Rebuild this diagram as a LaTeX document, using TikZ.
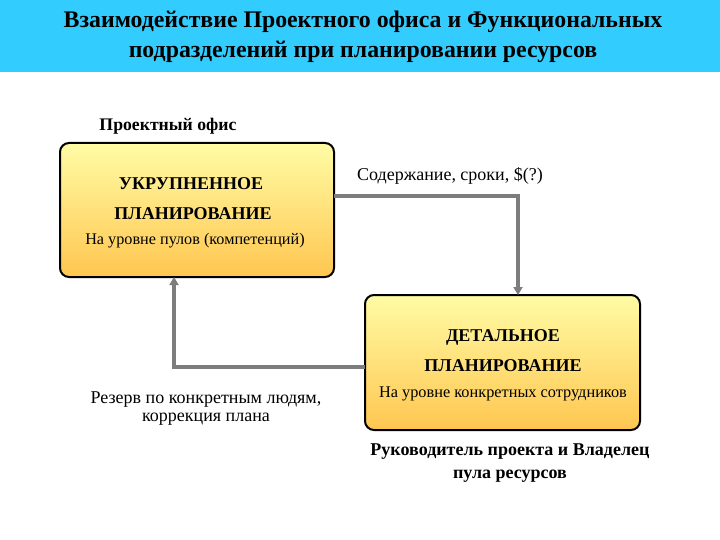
\documentclass[tikz,border=0pt]{standalone}
\usepackage{fontspec}
\setmainfont{Liberation Serif}
\usetikzlibrary{arrows.meta}
\definecolor{band}{RGB}{51,204,255}
\definecolor{boxtop}{RGB}{255,252,165}
\definecolor{boxbot}{RGB}{255,198,80}
\definecolor{conn}{RGB}{125,125,125}
\tikzset{
  planbox/.style={draw=black, line width=2pt, rounded corners=9pt, top color=boxtop, bottom color=boxbot},
  flow/.style={draw=conn, line width=3.6pt, -{Triangle[length=8pt,width=9pt]}},
  txt/.style={inner sep=0pt, align=center, text=black},
}
\begin{document}
\begin{tikzpicture}[x=1pt,y=-1pt]
\useasboundingbox (0,0) rectangle (720,540);
\fill[white] (0,0) rectangle (720,540);
\fill[band] (0,0) rectangle (720,72);
\node[txt, font=\fontsize{23.8}{28}\selectfont\bfseries] (t1) at (363,22) {Взаимодействие Проектного офиса и Функциональных};
\node[txt, font=\fontsize{23.8}{28}\selectfont\bfseries] (t2) at (363,52) {подразделений при планировании ресурсов};

\node[txt, font=\fontsize{17.7}{20}\selectfont\bfseries] (po) at (168,126) {Проектный офис};

\draw[planbox] (60,143) rectangle (334,277);
\coordinate (b1r) at (334,196);
\coordinate (b1b) at (174,277);
\node[txt, font=\fontsize{18}{20}\selectfont\bfseries] (u1) at (191,184) {УКРУПНЕННОЕ};
\node[txt, font=\fontsize{18}{20}\selectfont\bfseries] (u2) at (193,214) {ПЛАНИРОВАНИЕ};
\node[txt, font=\fontsize{16.2}{19}\selectfont] (u3) at (195,241) {На уровне пулов (компетенций)};

\draw[planbox] (365,295) rectangle (640,430);
\coordinate (b2t) at (518,295);
\coordinate (b2l) at (365,367);
\node[txt, font=\fontsize{18}{20}\selectfont\bfseries] (d1) at (503,337) {ДЕТАЛЬНОЕ};
\node[txt, font=\fontsize{18}{20}\selectfont\bfseries] (d2) at (503,366) {ПЛАНИРОВАНИЕ};
\node[txt, font=\fontsize{16.3}{19}\selectfont] (d3) at (503,394) {На уровне конкретных сотрудников};

\node[txt, font=\fontsize{18}{20}\selectfont] (c1) at (450,176) {Содержание, сроки, \$(?)};
\node[txt, font=\fontsize{18}{18}\selectfont] (r1) at (206,409) {Резерв по конкретным людям,\\коррекция плана};
\node[txt, font=\fontsize{18}{23}\selectfont\bfseries] (rk) at (510,463) {Руководитель проекта и Владелец\\пула ресурсов};

\draw[flow] (b1r) -- (518,196) -- (b2t);
\draw[flow] (b2l) -- (174,367) -- (b1b);
\end{tikzpicture}
\end{document}
